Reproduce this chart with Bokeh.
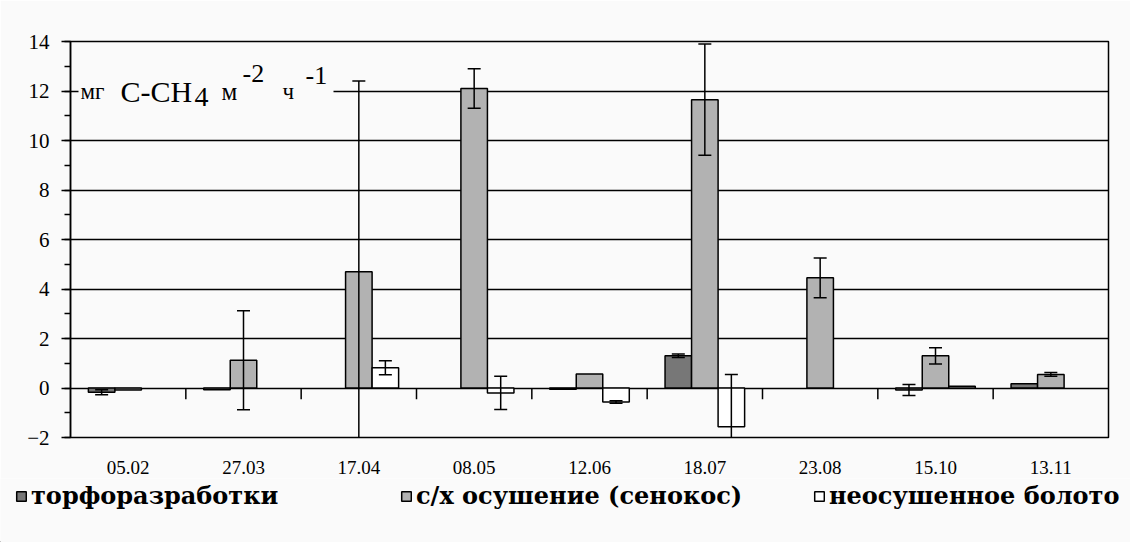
import math
from bokeh.plotting import figure
from bokeh.layouts import column
from bokeh.models import (FactorRange, Range1d, SingleIntervalTicker, ColumnDataSource,
                          Label, Legend, LegendItem, BoxAnnotation)
from bokeh.transform import dodge
from bokeh.embed import file_html
from bokeh.resources import INLINE

nan = float("nan")

dates = ["05.02", "27.03", "17.04", "08.05", "12.06", "18.07", "23.08", "15.10", "13.11"]
series_names = ["торфоразработки", "с/х осушение (сенокос)", "неосушенное болото"]

peat = [-0.17, -0.07, nan, nan, -0.05, 1.30, nan, -0.08, 0.17]
peat_err = [0.10, 0.0, nan, nan, 0.0, 0.07, nan, 0.22, 0.0]
drained = [-0.08, 1.12, 4.70, 12.10, 0.57, 11.65, 4.45, 1.30, 0.55]
drained_err = [0.0, 2.00, 7.70, 0.80, 0.0, 2.25, 0.80, 0.33, 0.08]
bog = [nan, nan, 0.82, -0.20, -0.57, -1.57, nan, 0.07, nan]
bog_err = [nan, nan, 0.28, 0.67, 0.05, 2.12, nan, 0.0, nan]

y_ticks_step = 2
y_min, y_max = -2, 14

colors = ["#777777", "#b2b2b2", "#ffffff"]
BG = "#fafafa"
FONT = "Liberation Serif"

p = figure(x_range=FactorRange(*dates, range_padding=0, factor_padding=0),
           y_range=Range1d(y_min, y_max),
           width=1130, height=478, output_backend="svg", toolbar_location=None,
           min_border_left=70, min_border_right=22, min_border_top=41, min_border_bottom=41)
p.background_fill_color = BG
p.border_fill_color = BG
p.outline_line_color = "black"
p.outline_line_width = 1.5

p.xgrid.visible = False
p.ygrid.grid_line_color = "black"
p.ygrid.grid_line_width = 1.5
p.ygrid.ticker = SingleIntervalTicker(interval=y_ticks_step)

yax = p.yaxis[0]
yax.ticker = SingleIntervalTicker(interval=y_ticks_step, num_minor_ticks=2)
yax.axis_line_color = "black"
yax.axis_line_width = 1.5
yax.major_tick_line_width = 1.5
yax.minor_tick_line_width = 1.5
yax.major_tick_out = 9
yax.major_tick_in = 0
yax.minor_tick_out = 6
yax.minor_tick_in = 0
yax.major_label_standoff = 12
yax.major_label_text_font = FONT
yax.major_label_text_font_size = "21px"
yax.major_label_text_color = "black"

xax = p.xaxis[0]
xax.axis_line_color = None
xax.major_tick_line_color = None
xax.minor_tick_line_color = None
xax.major_label_standoff = 17
xax.major_label_text_font = FONT
xax.major_label_text_font_size = "19px"
xax.major_label_text_color = "black"

offsets = [-0.23, 0.0, 0.23]
bar_w = 0.23
all_vals = [peat, drained, bog]
all_errs = [peat_err, drained_err, bog_err]

for k in range(3):
    xs = [d for d, v in zip(dates, all_vals[k]) if not math.isnan(v)]
    vs = [v for v in all_vals[k] if not math.isnan(v)]
    src = ColumnDataSource(dict(date=xs, top=vs))
    p.vbar(x=dodge("date", offsets[k], range=p.x_range), top="top", bottom=0,
           width=bar_w, source=src, fill_color=colors[k],
           line_color="black", line_width=1.5)

# category separators hanging from the zero line
sep = ColumnDataSource(dict(date=dates[:-1]))
p.segment(x0=dodge("date", 0.5, range=p.x_range), y0=0,
          x1=dodge("date", 0.5, range=p.x_range), y1=-0.45,
          source=sep, line_color="black", line_width=1.5)

# error bars
for k in range(3):
    xs, lo, hi = [], [], []
    for d, v, e in zip(dates, all_vals[k], all_errs[k]):
        if math.isnan(v) or math.isnan(e) or e <= 0:
            continue
        xs.append(d)
        lo.append(v - e)
        hi.append(v + e)
    src = ColumnDataSource(dict(date=xs, lo=lo, hi=hi))
    xd = dodge("date", offsets[k], range=p.x_range)
    p.segment(x0=xd, y0="lo", x1=xd, y1="hi", source=src, line_color="black", line_width=1.5)
    p.scatter(x=xd, y="hi", source=src, marker="dash", size=13, line_color="black", line_width=1.5)
    p.scatter(x=xd, y="lo", source=src, marker="dash", size=13, line_color="black", line_width=1.5)

# unit label inside the plot (masking the grid line behind it)
px_per_cat = 1038 / 9.0
def dx(px):
    return (px - 70) / px_per_cat

p.add_layout(BoxAnnotation(left=dx(78), right=dx(333), bottom=11.8, top=12.2,
                           fill_color=BG, fill_alpha=1.0, line_alpha=0))
label_parts = [
    ("мг", 80, 12.0, "23px"),
    ("C-CH", 120, 12.0, "30px"),
    ("4", 194, 11.75, "28px"),
    ("м", 221, 12.0, "25px"),
    ("-2", 242, 12.7, "26px"),
    ("ч", 282, 12.0, "23px"),
    ("-1", 305, 12.62, "26px"),
]
for txt, px, yy, fs in label_parts:
    p.add_layout(Label(x=dx(px), y=yy, text=txt, text_font=FONT,
                       text_font_size=fs, text_baseline="alphabetic", text_align="left",
                       text_color="black"))

# legend strip: a separate figure without axes, so the frame spans the full width
leg_fig = figure(width=1130, height=64, x_range=Range1d(0, 1), y_range=Range1d(0, 1),
                 output_backend="svg", toolbar_location=None,
                 x_axis_location=None, y_axis_location=None,
                 min_border=0, min_border_left=0, min_border_right=0,
                 min_border_top=0, min_border_bottom=0)
leg_fig.grid.visible = False
leg_fig.outline_line_color = None
leg_fig.background_fill_color = BG
leg_fig.border_fill_color = BG

for fig in (p, leg_fig):
    if "frame_align" in fig.properties():
        fig.frame_align = False

leg_x = [15, 400, 813]
for k in range(3):
    # off-screen proxy renderer that only supplies the legend swatch style
    r = leg_fig.vbar(x=[-5], top=[-5], bottom=-6, width=0.1, fill_color=colors[k],
                     line_color="black", line_width=1.5)
    leg = Legend(items=[LegendItem(label=series_names[k], renderers=[r])],
                 location=(leg_x[k], 32), orientation="horizontal",
                 padding=0, margin=0, border_line_color=None, background_fill_alpha=0,
                 glyph_width=12, glyph_height=12, label_standoff=4,
                 label_text_font="DejaVu Serif", label_text_font_style="bold",
                 label_text_font_size="24px", label_text_color="black")
    leg_fig.add_layout(leg, "center")

layout = column(p, leg_fig, spacing=0)
open("out.html", "w").write(file_html(layout, INLINE))
